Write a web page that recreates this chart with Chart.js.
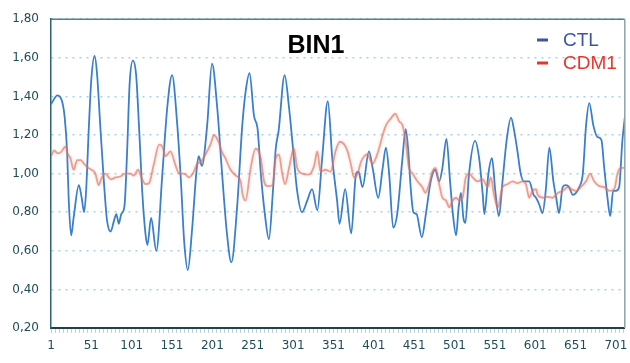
<!DOCTYPE html>
<html>
<head>
<meta charset="utf-8">
<script src="https://cdn.jsdelivr.net/npm/chart.js@4.4.1/dist/chart.umd.min.js"></script>
<style>
  html, body { margin: 0; padding: 0; background: #fff; }
</style>
</head>
<body>
<canvas id="myChart" width="630" height="363"></canvas>
<script>
// values (x = position index, y = ratio)
var ctlX = [1, 9, 15, 18, 21, 23, 26, 29, 35.5, 39, 42, 44.5, 48, 51, 55, 58, 62, 66.5, 70.5, 75,
    79, 82, 85, 88, 92, 95, 98.5, 102.5, 106.5, 110, 114, 118, 120.5, 125, 131.5, 139, 145, 151, 157.5, 162,
    166, 170.5, 176, 181, 184, 188, 194.5, 200.5, 207, 213, 219, 224.5, 231.5, 238, 242, 247, 252.5, 257, 261, 266,
    271, 276, 279.5, 283, 290.5, 296, 300, 306, 312, 318.5, 324.5, 331, 337, 344, 349.5, 355.5, 358.5, 365.5, 373, 379,
    382, 387, 395, 399.5, 406.5, 412, 416, 420, 425, 430, 436.5, 440.5, 443.5, 447, 450, 454, 460.5, 465.5, 471.5, 477,
    482, 486, 491, 495.5, 499, 503, 506, 509, 512, 514.5, 519, 526.5, 531.5, 536, 538, 543, 547.5, 551.5, 556, 560.5,
    565.5, 571, 575, 579, 583, 587, 593.5, 599, 602, 606, 610, 614, 618.5, 623.5, 627, 630.5, 635, 639, 643, 647.5,
    651.5, 655.5, 660, 664, 668, 673, 678, 683, 686.5, 690.5, 694, 697.5, 701, 705, 709, 712];
var ctlY = [1.36, 1.405, 1.37, 1.29, 1.11, 0.86, 0.68, 0.77, 0.94, 0.875, 0.80, 0.91, 1.25, 1.49, 1.61, 1.52, 1.25, 0.96, 0.755, 0.70,
    0.755, 0.79, 0.74, 0.79, 0.83, 1.08, 1.47, 1.585, 1.51, 1.25, 0.91, 0.69, 0.63, 0.77, 0.60, 1.00, 1.34, 1.51, 1.25, 0.96,
    0.65, 0.50, 0.72, 1.00, 1.09, 1.04, 1.25, 1.57, 1.34, 1.00, 0.69, 0.54, 0.82, 1.25, 1.42, 1.52, 1.30, 1.23, 1.00, 0.79,
    0.66, 0.91, 1.13, 1.22, 1.51, 1.34, 1.17, 0.91, 0.80, 0.86, 0.92, 0.81, 1.08, 1.375, 1.08, 0.86, 0.74, 0.92, 0.69, 1.00,
    1.01, 0.93, 1.115, 1.03, 0.875, 1.03, 1.135, 1.00, 0.72, 0.79, 1.08, 1.23, 1.13, 0.91, 0.80, 0.79, 0.67, 0.79, 0.96, 1.02,
    0.96, 1.03, 1.18, 0.96, 0.79, 0.68, 0.82, 0.90, 0.77, 0.745, 1.00, 1.17, 1.08, 0.89, 0.79, 1.00, 1.08, 0.91, 0.78, 0.96,
    1.17, 1.29, 1.22, 1.115, 1.00, 0.96, 0.96, 0.89, 0.875, 0.84, 0.795, 0.91, 1.135, 0.96, 0.875, 0.795, 0.93, 0.94, 0.93, 0.89,
    0.90, 0.93, 1.00, 1.25, 1.365, 1.25, 1.19, 1.175, 1.03, 0.875, 0.78, 0.91, 0.91, 0.93, 1.17, 1.29];

var cdmX = [1, 5, 9, 13, 19, 22, 25, 29, 33.5, 38, 42, 47, 51, 56, 60, 64, 68.5, 75, 81, 87,
    93, 99.5, 103.5, 109, 113, 118, 122.5, 128.5, 135, 139, 143, 149, 155.5, 160, 166, 172, 178, 182, 186.5, 192.5,
    198.5, 203, 209, 213, 217, 223.5, 230, 236, 238.5, 242, 248.5, 254.5, 261, 265, 269, 275.5, 279.5, 283.5, 287.5, 291,
    296, 302, 306, 312.5, 320.5, 327, 331, 335, 341, 347.5, 353.5, 359, 364.5, 368.5, 372.5, 376.5, 381, 385, 389, 393,
    399.5, 403.5, 407.5, 412, 416, 422, 427.5, 432.5, 436.5, 440.5, 444.5, 449, 455, 461, 465, 469.5, 473.5, 477.5, 482, 486,
    490.5, 494.5, 498.5, 503, 507, 511, 515, 519.5, 523.5, 529.5, 536, 542, 546, 550, 554.5, 560.5, 566.5, 573, 579, 585,
    589.5, 593.5, 597.5, 602, 604, 610.5, 616.5, 622.5, 629, 635, 641.5, 645.5, 651.5, 657.5, 664, 669, 674, 680.5, 686.5, 693,
    699, 703, 707, 712];
var cdmY = [1.09, 1.12, 1.105, 1.11, 1.14, 1.10, 1.08, 1.02, 1.07, 1.07, 1.05, 1.03, 1.02, 1.00, 0.94, 0.98, 1.00, 0.97, 0.98, 0.985,
    1.00, 1.00, 0.99, 1.02, 0.98, 0.945, 0.95, 1.05, 1.15, 1.14, 1.09, 1.115, 1.04, 1.00, 1.00, 0.98, 1.01, 1.05, 1.06, 1.10,
    1.15, 1.20, 1.16, 1.11, 1.08, 1.02, 0.99, 0.96, 0.89, 0.86, 1.03, 1.13, 1.08, 0.96, 0.935, 0.94, 1.08, 1.10, 1.00, 0.945,
    1.03, 1.13, 1.03, 1.00, 0.995, 1.04, 1.115, 1.01, 1.02, 1.01, 1.115, 1.165, 1.15, 1.115, 1.05, 0.98, 1.00, 1.06, 1.09, 1.10,
    1.05, 1.08, 1.13, 1.20, 1.25, 1.285, 1.31, 1.27, 1.25, 1.165, 1.03, 1.00, 0.96, 0.93, 0.90, 0.945, 1.01, 1.03, 0.945, 0.875,
    0.86, 0.825, 0.86, 0.875, 0.86, 0.875, 0.98, 1.00, 0.98, 0.96, 0.97, 0.93, 0.98, 0.89, 0.825, 0.93, 0.945, 0.96, 0.95, 0.96,
    0.945, 0.875, 0.91, 0.92, 0.89, 0.875, 0.88, 0.875, 0.90, 0.91, 0.93, 0.92, 0.91, 0.93, 0.96, 1.00, 0.96, 0.935, 0.93, 0.91,
    0.92, 1.00, 1.03, 1.03];

var xTicks = [1, 51, 101, 151, 201, 251, 301, 351, 401, 451, 501, 551, 601, 651, 701];
var yTicks = [0.2, 0.4, 0.6, 0.8, 1.0, 1.2, 1.4, 1.6, 1.8];

function toPoints(xs, ys) {
    var pts = [];
    for (var i = 0; i < xs.length; i++) {
        pts.push({ x: xs[i], y: ys[i] });
    }
    return pts;
}

// frame, title and legend are drawn inside the plot area
var decorPlugin = {
    id: 'decor',
    beforeDatasetDraw: function (chart, args) {
        if (args.index === 1) {
            chart.ctx.save();
            chart.ctx.shadowColor = 'rgba(246, 160, 140, 0.8)';
            chart.ctx.shadowBlur = 3;
        }
    },
    afterDatasetDraw: function (chart, args) {
        if (args.index === 1) chart.ctx.restore();
    },
    afterDraw: function (chart) {
        var ctx = chart.ctx;
        var a = chart.chartArea;
        ctx.save();
        ctx.strokeStyle = '#4f8290';
        ctx.lineWidth = 1.5;
        ctx.beginPath();
        ctx.moveTo(a.left, a.top);
        ctx.lineTo(a.right, a.top);
        ctx.stroke();
        ctx.strokeStyle = '#8aa3aa';
        ctx.beginPath();
        ctx.moveTo(a.right, a.top);
        ctx.lineTo(a.right, a.bottom);
        ctx.stroke();

        ctx.fillStyle = '#000';
        ctx.font = 'bold 25px "Liberation Sans", Arial, sans-serif';
        ctx.textAlign = 'center';
        ctx.textBaseline = 'middle';
        ctx.fillText('BIN1', 316, 46);

        var items = [
            { text: chart.data.datasets[0].label, color: '#3d55a8', y: 40 },
            { text: chart.data.datasets[1].label, color: '#e8352b', y: 63 }
        ];
        ctx.font = '19px "Liberation Sans", Arial, sans-serif';
        ctx.textAlign = 'left';
        items.forEach(function (it) {
            ctx.fillStyle = it.color;
            ctx.fillRect(537, it.y - 1.5, 11, 3);
            ctx.fillText(it.text, 563, it.y + 1);
        });
        ctx.restore();
    }
};

new Chart('myChart', {
    type: 'line',
    data: {
        datasets: [{
            label: 'CTL',
            data: toPoints(ctlX, ctlY),
            borderColor: '#3a7fcb',
            borderWidth: 1.8,
            pointRadius: 0,
            cubicInterpolationMode: 'monotone',
            order: 1
        }, {
            label: 'CDM1',
            data: toPoints(cdmX, cdmY),
            borderColor: 'rgba(222, 108, 88, 0.6)',
            borderWidth: 1.8,
            pointRadius: 0,
            cubicInterpolationMode: 'monotone',
            order: 0
        }]
    },
    options: {
        responsive: false,
        animation: false,
        layout: { padding: { top: 16, right: 4, left: 0, bottom: 0 } },
        plugins: {
            legend: { display: false },
            tooltip: { enabled: false }
        },
        scales: {
            x: {
                type: 'linear',
                min: 1,
                max: 712,
                afterBuildTicks: function (scale) {
                    var t = [];
                    for (var v = 1; v <= 711; v += 5) t.push({ value: v });
                    scale.ticks = t;
                },
                afterFit: function (scale) { scale.height = 35; },
                ticks: {
                    autoSkip: false,
                    maxRotation: 0,
                    padding: 6,
                    color: '#1f4c58',
                    font: { family: '"DejaVu Sans", Verdana, sans-serif', size: 12 },
                    callback: function (value) {
                        return xTicks.indexOf(value) >= 0 ? String(value) : '';
                    }
                },
                grid: {
                    drawOnChartArea: false,
                    drawTicks: true,
                    tickLength: 5,
                    color: '#c3d0d3'
                },
                border: { display: true, color: '#1f4450', width: 2 }
            },
            y: {
                min: 0.2,
                max: 1.8,
                afterBuildTicks: function (scale) {
                    scale.ticks = yTicks.map(function (v) { return { value: v }; });
                },
                afterFit: function (scale) { scale.width = 51; },
                ticks: {
                    padding: 12,
                    color: '#1f4c58',
                    font: { family: '"DejaVu Sans", Verdana, sans-serif', size: 12 },
                    callback: function (value) {
                        return value.toFixed(2).replace('.', ',');
                    }
                },
                grid: {
                    drawTicks: false,
                    color: '#a8d2ea',
                    lineWidth: 1.5
                },
                border: { display: true, color: '#2b6472', width: 1.5, dash: [2, 5] }
            }
        }
    },
    plugins: [decorPlugin]
});
</script>
</body>
</html>
